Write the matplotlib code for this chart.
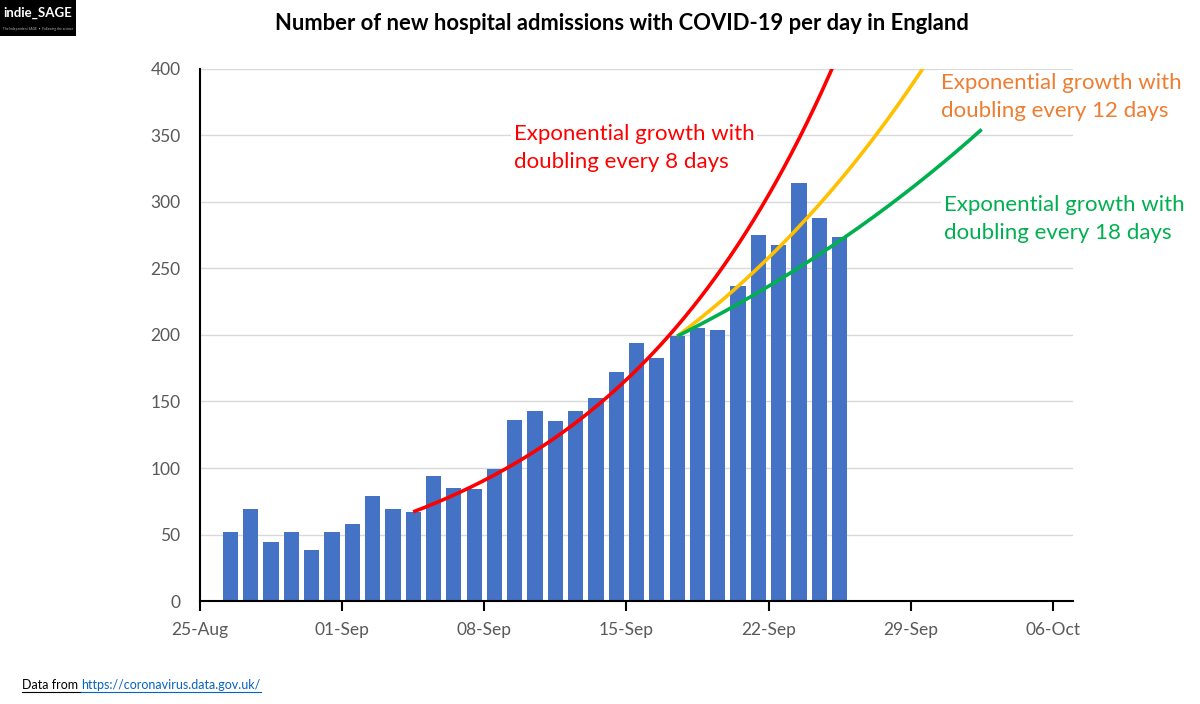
import numpy as np
import matplotlib
matplotlib.use("Agg")
import matplotlib.pyplot as plt
from matplotlib.patches import Rectangle
from matplotlib.lines import Line2D

plt.rcParams['font.family'] = ['Lato', 'DejaVu Sans']

# daily admissions, 26-Aug to 25-Sep
dates = ['26-Aug', '27-Aug', '28-Aug', '29-Aug', '30-Aug', '31-Aug',
         '01-Sep', '02-Sep', '03-Sep', '04-Sep', '05-Sep', '06-Sep', '07-Sep',
         '08-Sep', '09-Sep', '10-Sep', '11-Sep', '12-Sep', '13-Sep', '14-Sep',
         '15-Sep', '16-Sep', '17-Sep', '18-Sep', '19-Sep', '20-Sep', '21-Sep',
         '22-Sep', '23-Sep', '24-Sep', '25-Sep']
admissions = [52, 69, 44, 52, 38, 52,
              58, 79, 69, 67, 94, 85, 84,
              99, 136, 143, 135, 143, 153, 172,
              194, 183, 199, 205, 204, 237, 275,
              268, 314, 288, 274]

tick_labels = ['25-Aug', '01-Sep', '08-Sep', '15-Sep', '22-Sep', '29-Sep', '06-Oct']

# exponential curves: start day index and doubling time
red_start, red_double = 9, 8       # from 04-Sep
late_start = 22                    # from 17-Sep
yellow_double = 12
green_double = 18
curve_end = 38.5                   # days after 25-Aug

fig = plt.figure(figsize=(12, 7.04), dpi=100)
ax = fig.add_axes([0.1667, 0.1463, 0.7275, 0.7557])

days = np.arange(len(dates)) + 1.5   # days after 25-Aug, centred mid-day
ax.bar(days, admissions, width=0.75, color='#4472C4', zorder=2)

def curve(start_idx, dbl, color):
    t0 = days[start_idx]
    y0 = admissions[start_idx]
    t = np.linspace(t0, curve_end, 300)
    ax.plot(t, y0 * 2 ** ((t - t0) / dbl), color=color, lw=2.6, zorder=3,
            solid_capstyle='butt')

curve(red_start, red_double, '#FF0000')
curve(late_start, yellow_double, '#FFC000')
curve(late_start, green_double, '#00B050')

ax.set_xlim(0, 43)
ax.set_ylim(0, 400)
ax.set_xticks(np.arange(len(tick_labels)) * 7)
ax.set_xticklabels(tick_labels)
ax.set_yticks(np.arange(0, 401, 50))
ax.yaxis.grid(True, color='#D9D9D9', lw=1, zorder=0)
ax.set_axisbelow(True)
for s in ['top', 'right']:
    ax.spines[s].set_visible(False)
for s in ['left', 'bottom']:
    ax.spines[s].set_color('black')
    ax.spines[s].set_linewidth(1.5)
ax.tick_params(axis='x', direction='out', length=7, width=1.5, colors='black',
               labelcolor='#595959', labelsize=12.5, pad=8)
ax.tick_params(axis='y', length=0, labelcolor='#595959', labelsize=12.5, pad=14)

box = dict(facecolor='white', edgecolor='none', pad=2)
ax.text(15.45, 359, 'Exponential growth with\ndoubling every 8 days', color='#FF0000',
        fontsize=16, va='top', ha='left', linespacing=1.5, bbox=box, zorder=4)
ax.text(36.5, 397, 'Exponential growth with\ndoubling every 12 days', color='#ED7D31',
        fontsize=16, va='top', ha='left', linespacing=1.5, bbox=box, zorder=4)
ax.text(36.65, 305, 'Exponential growth with\ndoubling every 18 days', color='#00B050',
        fontsize=16, va='top', ha='left', linespacing=1.5, bbox=box, zorder=4)

fig.text(0.518, 0.966, 'Number of new hospital admissions with COVID-19 per day in England',
         ha='center', va='center', fontsize=15.8, fontweight='bold')

# logo
fig.patches.append(Rectangle((0, 1 - 36 / 704), 76 / 1200, 36 / 704, transform=fig.transFigure,
                             facecolor='black', zorder=5))
fig.text(38 / 1200, 1 - 13 / 704, 'indie_SAGE', color='white', ha='center', va='center',
         fontsize=9.5, fontweight='bold', zorder=6)
fig.text(38 / 1200, 1 - 29 / 704, 'The Independent SAGE  \u2022  Following the science',
         color='#BBBBBB', ha='center', va='center', fontsize=2.3, zorder=6)

# footer
t1 = fig.text(22 / 1200, 1 - 689 / 704, 'Data from ', fontsize=9, va='baseline', color='black')
fig.canvas.draw()
r = fig.canvas.get_renderer()
bb1 = t1.get_window_extent(r)
t2 = fig.text(bb1.x1 / 1200, 1 - 689 / 704, 'https://coronavirus.data.gov.uk/', fontsize=9,
              va='baseline', color='#0563C1')
bb2 = t2.get_window_extent(r)
yu = (704 - 692) / 704
fig.lines.append(Line2D([bb1.x0 / 1200, bb1.x1 / 1200], [yu, yu], transform=fig.transFigure,
                        color='black', lw=0.8))
fig.lines.append(Line2D([bb2.x0 / 1200, bb2.x1 / 1200], [yu, yu], transform=fig.transFigure,
                        color='#0563C1', lw=0.8))

fig.savefig('out.png', dpi=100)
